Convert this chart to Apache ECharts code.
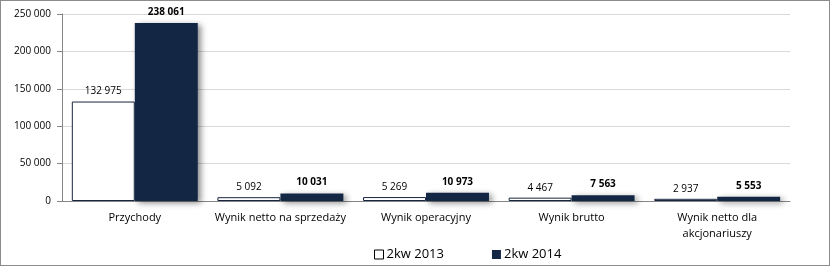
<!DOCTYPE html>
<html><head><meta charset="utf-8">
<script src="https://cdn.jsdelivr.net/npm/echarts@6/dist/echarts.min.js"></script>
<style>html,body{margin:0;padding:0;background:#fff}#c{width:830px;height:266px;box-sizing:border-box;border:1px solid #8c8c8c}</style>
</head><body><div id="c"></div>
<script>
const categories = ["Przychody", "Wynik netto na sprzedaży", "Wynik operacyjny", "Wynik brutto", "Wynik netto dla\nakcjonariuszy"];
const series2013 = [132975, 5092, 5269, 4467, 2937];
const series2014 = [238061, 10031, 10973, 7563, 5553];
const seriesNames = ["2kw 2013", "2kw 2014"];
const yTicks = [0, 50000, 100000, 150000, 200000, 250000];

const fmt = v => String(v).replace(/\B(?=(\d{3})+(?!\d))/g, ' ');
const font = '"Open Sans", "Liberation Sans", sans-serif';
const chart = echarts.init(document.getElementById('c'), null, {renderer: 'canvas'});
chart.setOption({
  animation: false,
  textStyle: {fontFamily: font},
  grid: {left: 61, right: 39, top: 13, bottom: 64},
  legend: {
    top: 242, left: 368, itemGap: 48, itemWidth: 9, itemHeight: 9,
    textStyle: {fontSize: 13, color: '#000', fontFamily: font, padding: [0, 0, 0, -2]},
    data: [
      {name: seriesNames[0], icon: 'rect', itemStyle: {color: '#fff', borderColor: '#000', borderWidth: 1}},
      {name: seriesNames[1], icon: 'rect'}
    ]
  },
  xAxis: {
    type: 'category', data: categories,
    axisLine: {lineStyle: {color: '#868686'}},
    axisTick: {show: false},
    axisLabel: {color: '#000', fontSize: 11, margin: 9, interval: 0, lineHeight: 16},
  },
  yAxis: {
    type: 'value', min: yTicks[0], max: yTicks[yTicks.length - 1], interval: 50000,
    axisLine: {show: true, lineStyle: {color: '#868686'}},
    axisTick: {show: true, length: 5, lineStyle: {color: '#868686'}},
    axisLabel: {color: '#000', fontSize: 10, margin: 11, formatter: v => fmt(v)},
    splitLine: {lineStyle: {color: '#d9d9d9'}}
  },
  series: [
    {
      name: seriesNames[0], type: 'bar', data: series2013,
      barGap: '0%', barCategoryGap: '13.5%',
      itemStyle: {color: '#fff', borderColor: '#17263f', borderWidth: 1},
      label: {show: true, position: 'top', distance: 5, color: '#000', fontSize: 10, formatter: p => fmt(p.value)}
    },
    {
      name: seriesNames[1], type: 'bar', data: series2014,
      itemStyle: {color: '#132744', shadowColor: 'rgba(0,0,0,0.45)', shadowBlur: 6, shadowOffsetX: 3, shadowOffsetY: 2},
      label: {show: true, position: 'top', distance: 6, color: '#000', fontSize: 10, fontWeight: 'bold', formatter: p => fmt(p.value)}
    }
  ]
});
</script></body></html>
